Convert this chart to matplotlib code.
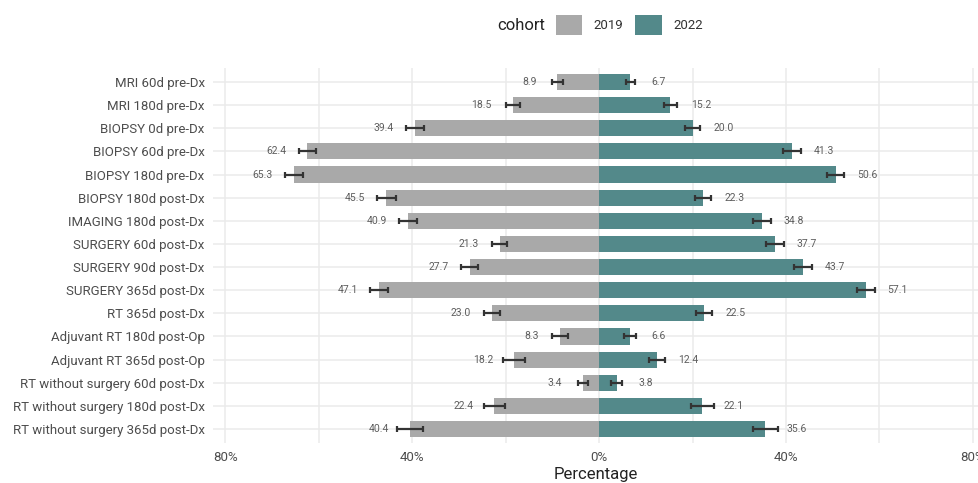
import matplotlib.pyplot as plt
from matplotlib.patches import Patch
import numpy as np

categories = ["MRI 60d pre-Dx", "MRI 180d pre-Dx", "BIOPSY 0d pre-Dx", "BIOPSY 60d pre-Dx",
              "BIOPSY 180d pre-Dx", "BIOPSY 180d post-Dx", "IMAGING 180d post-Dx",
              "SURGERY 60d post-Dx", "SURGERY 90d post-Dx", "SURGERY 365d post-Dx",
              "RT 365d post-Dx", "Adjuvant RT 180d post-Op", "Adjuvant RT 365d post-Op",
              "RT without surgery 60d post-Dx", "RT without surgery 180d post-Dx",
              "RT without surgery 365d post-Dx"]
pct_2019 = [8.9, 18.5, 39.4, 62.4, 65.3, 45.5, 40.9, 21.3, 27.7, 47.1, 23.0, 8.3, 18.2, 3.4, 22.4, 40.4]
pct_2022 = [6.7, 15.2, 20.0, 41.3, 50.6, 22.3, 34.8, 37.7, 43.7, 57.1, 22.5, 6.6, 12.4, 3.8, 22.1, 35.6]
ci_2019 = [1.25, 1.5, 1.9, 1.85, 1.85, 2.0, 2.0, 1.65, 1.9, 2.0, 1.7, 1.75, 2.25, 1.0, 2.25, 2.8]
ci_2022 = [1.0, 1.4, 1.55, 1.85, 1.9, 1.7, 1.9, 1.9, 1.9, 2.0, 1.7, 1.35, 1.75, 1.2, 2.4, 2.75]
xticks = [-80, -40, 0, 40, 80]
xticklabels = ["80%", "40%", "0%", "40%", "80%"]

c2019 = "#a9a9a9"
c2022 = "#53898a"
plt.rcParams['font.family'] = ['Roboto', 'DejaVu Sans']

fig = plt.figure(figsize=(9.79, 4.83), dpi=100)
ax = fig.add_axes([0.2176, 0.083, 0.7824, 0.776])

y = np.arange(len(categories))
left = -np.array(pct_2019)
right = np.array(pct_2022)
ax.barh(y, left, height=0.7, color=c2019, zorder=2)
ax.barh(y, right, height=0.7, color=c2022, zorder=2)
ax.errorbar(left, y, xerr=ci_2019, fmt='none', ecolor='#333333', elinewidth=1.6,
            capsize=2.5, capthick=1.6, zorder=3)
ax.errorbar(right, y, xerr=ci_2022, fmt='none', ecolor='#333333', elinewidth=1.6,
            capsize=2.5, capthick=1.6, zorder=3)

# value labels just past the bar ends
for i in range(len(categories)):
    ax.text(left[i] - 4.5, y[i], f"{pct_2019[i]:.1f}", ha='right', va='center',
            fontsize=7.5, color='#5e5e5e', zorder=4)
    ax.text(right[i] + 4.6, y[i], f"{pct_2022[i]:.1f}", ha='left', va='center',
            fontsize=7.5, color='#5e5e5e', zorder=4)

ax.set_xlim(-82.6, 81.3)
ax.set_ylim(15.6, -0.6)
ax.set_yticks(y)
ax.set_yticklabels(categories)
ax.set_xticks(xticks)
ax.set_xticklabels(xticklabels)
ax.set_xticks([-60, -20, 20, 60], minor=True)
ax.grid(True, which='major', color='#ebebeb', linewidth=1.1, zorder=0)
ax.grid(True, which='minor', axis='x', color='#ebebeb', linewidth=1.1, zorder=0)
ax.tick_params(axis='both', which='both', length=0, labelsize=9.5, colors='#4d4d4d')
ax.tick_params(axis='y', pad=6)
ax.tick_params(axis='x', pad=6)
for s in ax.spines.values():
    s.set_visible(False)
ax.set_xlabel("Percentage", fontsize=12, color='#222222', labelpad=2)

handles = [Patch(facecolor=c2019), Patch(facecolor=c2022)]
fig.legend(handles, ["2019", "2022"], loc='center', bbox_to_anchor=(0.643, 0.948),
           ncol=2, frameon=False, fontsize=9.5, handlelength=2.0, handleheight=2.0,
           handletextpad=0.9, columnspacing=0.9, labelcolor='#333333')
fig.text(0.5075, 0.948, "cohort", ha='left', va='center', fontsize=12, color='#222222')

fig.savefig("out.png", dpi=100)
